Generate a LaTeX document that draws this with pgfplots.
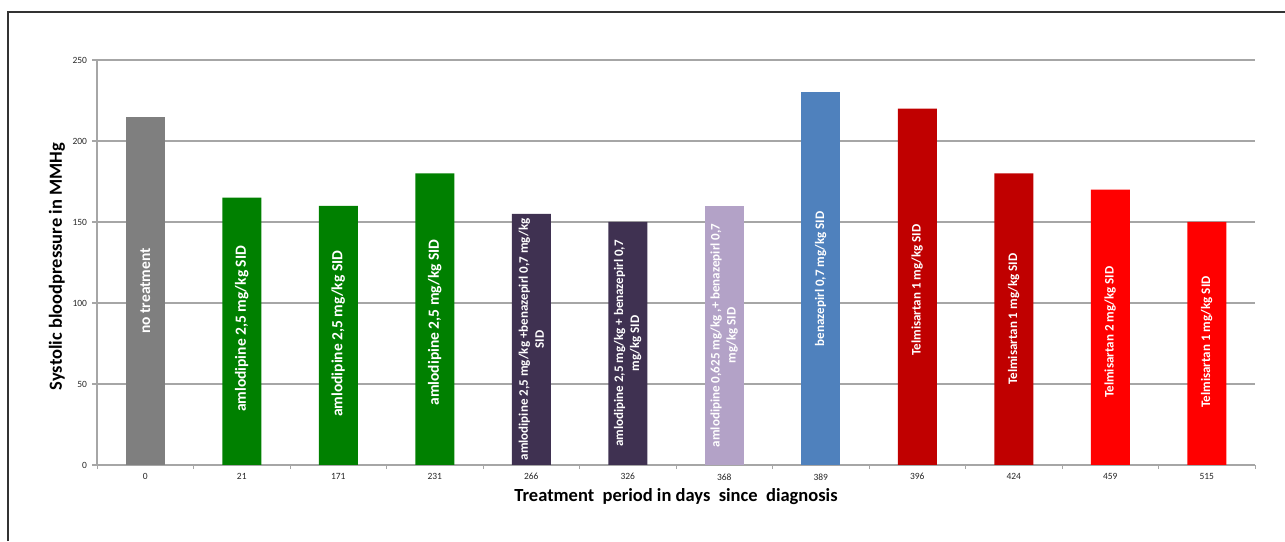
\documentclass[border=0pt]{standalone}
\usepackage{fontspec}
\setmainfont{Carlito}
\usepackage{pgfplots}
\pgfplotsset{compat=1.18}
\definecolor{cgray}{HTML}{7F7F7F}
\definecolor{cgreen}{HTML}{008000}
\definecolor{cdpurple}{HTML}{3F3151}
\definecolor{clpurple}{HTML}{B3A2C7}
\definecolor{cblue}{HTML}{4F81BD}
\definecolor{cdred}{HTML}{C00000}
\definecolor{cred}{HTML}{FF0000}
\definecolor{lgray}{HTML}{A6A6A6}
\tikzset{
  barlab/.style={rotate=90, text=white, anchor=center, align=center, font=\bfseries\fontsize{13}{16}\selectfont},
  biglab/.style={barlab, font=\bfseries\fontsize{15.5}{18}\selectfont},
}
\begin{document}
\begin{tikzpicture}[x=1pt,y=1pt]
\useasboundingbox (0,0) rectangle (1285,541);
\draw[line width=2pt, color=black!80] (8,0) -- (8,529) -- (1285,529);
\coordinate (A) at (97,76);
\begin{axis}[
  at={(A)}, anchor=south west,
  width=1158pt, height=405pt, scale only axis,
  xmin=-0.5, xmax=11.5, ymin=0, ymax=250,
  axis x line*=bottom, axis y line*=left,
  axis line style={color=lgray, line width=1.2pt},
  ytick={0,50,...,250},
  ymajorgrids, grid style={color=lgray, line width=1.2pt},
  xtick={0,...,11},
  xticklabels={0,21,171,231,266,326,368,389,396,424,459,515},
  major x tick style={draw=none},
  minor xtick={-0.5,0.5,...,11.5},
  minor x tick style={color=lgray, line width=1pt},
  major y tick style={color=lgray, line width=1.2pt},
  tick align=outside, major tick length=5pt, minor tick length=4pt,
  tick label style={font=\fontsize{9.5}{11}\selectfont, color=black!85},
  yticklabel style={xshift=-1.5pt},
  /pgf/number format/assume math mode=true,
  xlabel={Treatment\ \ period in days\ \ since\ \ diagnosis},
  xlabel style={at={(axis description cs:0.5,0)}, anchor=center, yshift=-32pt, font=\bfseries\fontsize{18.5}{20}\selectfont},
  ylabel={Systolic bloodpressure in MMHg},
  ylabel style={at={(axis description cs:0,0.49)}, anchor=center, rotate=0, yshift=40pt, font=\bfseries\fontsize{18.5}{22}\selectfont},
  clip=false,
]
\addplot[ybar, bar width=39pt, fill=cgray, draw=none] coordinates {(0,215)};
\addplot[ybar, bar width=39pt, fill=cgreen, draw=none] coordinates {(1,165) (2,160) (3,180)};
\addplot[ybar, bar width=39pt, fill=cdpurple, draw=none] coordinates {(4,155) (5,150)};
\addplot[ybar, bar width=39pt, fill=clpurple, draw=none] coordinates {(6,160)};
\addplot[ybar, bar width=39pt, fill=cblue, draw=none] coordinates {(7,230)};
\addplot[ybar, bar width=39pt, fill=cdred, draw=none] coordinates {(8,220) (9,180)};
\addplot[ybar, bar width=39pt, fill=cred, draw=none] coordinates {(10,170) (11,150)};
\node[biglab] at (axis cs:0,107.5) {no treatment};
\node[biglab] at (axis cs:1,84) {amlodipine 2,5 mg/kg SID};
\node[biglab] at (axis cs:2,81) {amlodipine 2,5 mg/kg SID};
\node[biglab] at (axis cs:3,88) {amlodipine 2,5 mg/kg SID};
\node[barlab] at (axis cs:4,77.5) {amlodipine 2,5 mg/kg +benazepirl 0,7 mg/kg\\SID};
\node[barlab] at (axis cs:5,75) {amlodipine 2,5 mg/kg + benazepirl 0,7\\mg/kg SID};
\node[barlab] at (axis cs:6,80) {amlodipine 0,625 mg/kg ,+ benazepirl 0,7\\mg/kg SID};
\node[barlab] at (axis cs:7,115) {benazepirl 0,7 mg/kg SID};
\node[barlab] at (axis cs:8,108) {Telmisartan 1 mg/kg SID};
\node[barlab] at (axis cs:9,90) {Telmisartan 1 mg/kg SID};
\node[barlab] at (axis cs:10,82) {Telmisartan 2 mg/kg SID};
\node[barlab] at (axis cs:11,76) {Telmisartan 1 mg/kg SID};
\end{axis}
\end{tikzpicture}
\end{document}
